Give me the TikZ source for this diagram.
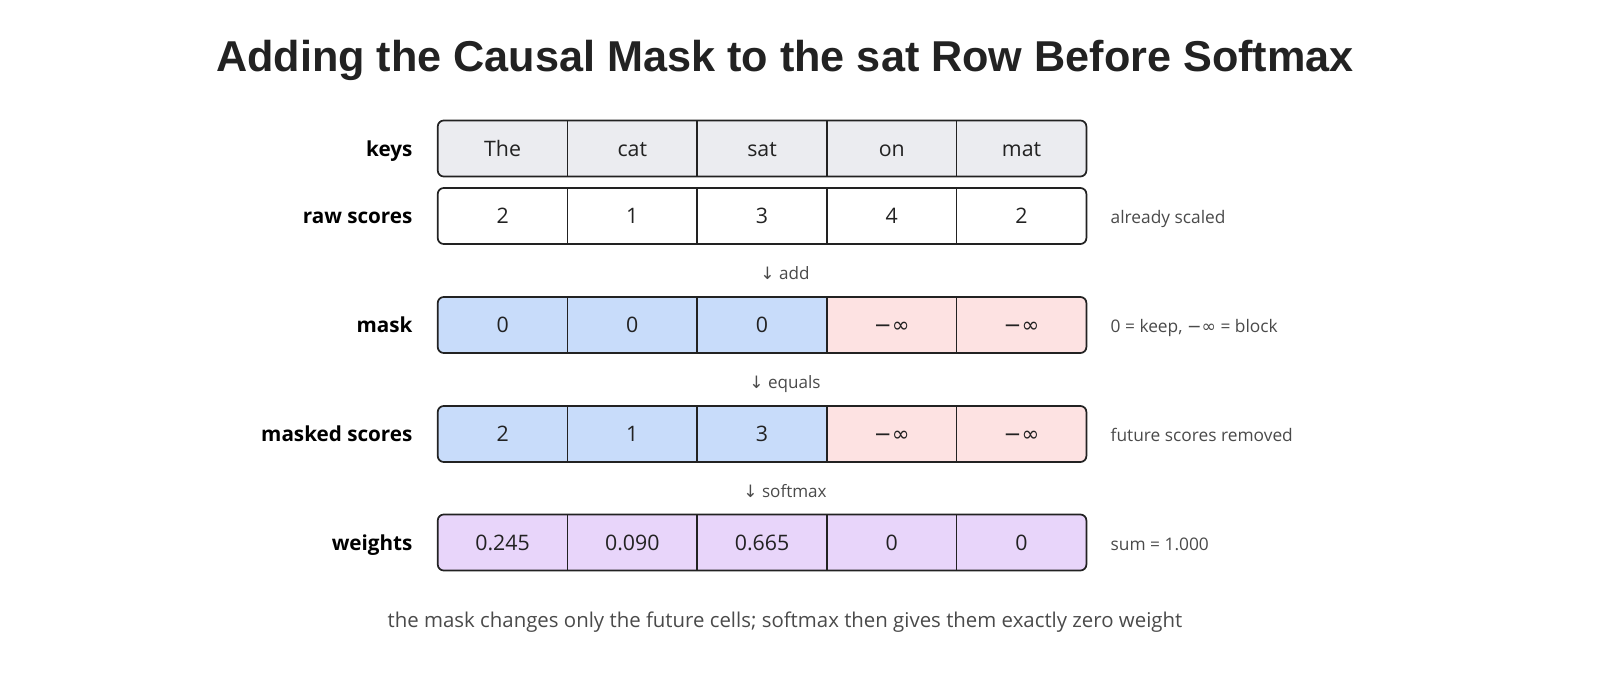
\documentclass[tikz,border=0pt]{standalone}
\usepackage{fontspec}
\setmainfont{Open Sans}
\newfontfamily\titlefont{Liberation Sans}
\newfontfamily\symfont{DejaVu Sans}
\usetikzlibrary{positioning,backgrounds}
\definecolor{inkdark}{HTML}{222222}
\definecolor{notegray}{HTML}{4A4A4A}
\definecolor{keygray}{HTML}{EBECF0}
\definecolor{keepblue}{HTML}{C8DCFA}
\definecolor{blockpink}{HTML}{FDE2E2}
\definecolor{weightpurple}{HTML}{E8D5FA}
\tikzstyle{cell} = [rectangle, minimum width=96.9pt, minimum height=41.6pt, inner sep=0pt, text height=2.2ex, text depth=0pt, text=inkdark, font=\fontsize{16}{19}\selectfont]
\tikzstyle{rowlabel} = [anchor=east, inner sep=0pt, text height=2.2ex, text depth=0pt, text=black, font=\bfseries\fontsize{15.5}{19}\selectfont]
\tikzstyle{note} = [anchor=west, inner sep=0pt, text height=2.2ex, text depth=0pt, text=notegray, font=\fontsize{13}{16}\selectfont]
\tikzstyle{steplabel} = [inner sep=0pt, text height=1.9ex, text depth=0pt, text=notegray, font=\fontsize{12.8}{16}\selectfont]
\tikzstyle{frame} = [draw=inkdark, line width=1.3pt, rounded corners=4.5pt]
\tikzstyle{divider} = [draw=inkdark, line width=1.1pt]
\newcommand{\minf}{{\symfont −∞}}
\newcommand{\down}{{\symfont ↓}}

\begin{document}
\begin{tikzpicture}[x=0.75pt, y=-0.75pt, node distance=0pt]
\useasboundingbox (0,0) rectangle (1600,680);

\node (title) [text=inkdark, font=\titlefont\bfseries\fontsize{32.4}{38}\selectfont] at (785,60) {Adding the Causal Mask to the sat Row Before Softmax};

% keys
\node (keys1) [cell] at (502.6,148.5) {The};
\node (keys2) [cell, right=of keys1] {cat};
\node (keys3) [cell, right=of keys2] {sat};
\node (keys4) [cell, right=of keys3] {on};
\node (keys5) [cell, right=of keys4] {mat};
\node (keyslabel) [rowlabel, left=18.75pt of keys1] {keys};

% raw scores
\node (raw1) [cell] at (502.6,216) {2};
\node (raw2) [cell, right=of raw1] {1};
\node (raw3) [cell, right=of raw2] {3};
\node (raw4) [cell, right=of raw3] {4};
\node (raw5) [cell, right=of raw4] {2};
\node (rawlabel) [rowlabel, left=18.75pt of raw1] {raw scores};
\node (rawnote) [note, right=18pt of raw5] {already scaled};

\node (addstep) [steplabel] at (785,273) {\down{} add};

% mask
\node (mask1) [cell] at (502.6,325) {0};
\node (mask2) [cell, right=of mask1] {0};
\node (mask3) [cell, right=of mask2] {0};
\node (mask4) [cell, right=of mask3] {\minf};
\node (mask5) [cell, right=of mask4] {\minf};
\node (masklabel) [rowlabel, left=18.75pt of mask1] {mask};
\node (masknote) [note, right=18pt of mask5] {0 = keep, \minf{} = block};

\node (equalsstep) [steplabel] at (785,382) {\down{} equals};

% masked scores
\node (msk1) [cell] at (502.6,434) {2};
\node (msk2) [cell, right=of msk1] {1};
\node (msk3) [cell, right=of msk2] {3};
\node (msk4) [cell, right=of msk3] {\minf};
\node (msk5) [cell, right=of msk4] {\minf};
\node (msklabel) [rowlabel, left=18.75pt of msk1] {masked scores};
\node (msknote) [note, right=18pt of msk5] {future scores removed};

\node (softmaxstep) [steplabel] at (785,491) {\down{} softmax};

% weights
\node (wt1) [cell] at (502.6,542.5) {0.245};
\node (wt2) [cell, right=of wt1] {0.090};
\node (wt3) [cell, right=of wt2] {0.665};
\node (wt4) [cell, right=of wt3] {0};
\node (wt5) [cell, right=of wt4] {0};
\node (wtlabel) [rowlabel, left=18.75pt of wt1] {weights};
\node (wtnote) [note, right=18pt of wt5] {sum = 1.000};

\node (caption) [inner sep=0pt, text height=2ex, text depth=0pt, text=notegray, font=\fontsize{15.3}{18}\selectfont] at (785,620) {the mask changes only the future cells; softmax then gives them exactly zero weight};

% fills
\begin{scope}[on background layer]
\fill[keygray, rounded corners=4.5pt] (keys1.north west) rectangle (keys5.south east);
\begin{scope}
\clip[rounded corners=4.5pt] (mask1.north west) rectangle (mask5.south east);
\fill[keepblue] (mask1.north west) rectangle (mask3.south east);
\fill[blockpink] (mask4.north west) rectangle (mask5.south east);
\end{scope}
\begin{scope}
\clip[rounded corners=4.5pt] (msk1.north west) rectangle (msk5.south east);
\fill[keepblue] (msk1.north west) rectangle (msk3.south east);
\fill[blockpink] (msk4.north west) rectangle (msk5.south east);
\end{scope}
\fill[weightpurple, rounded corners=4.5pt] (wt1.north west) rectangle (wt5.south east);
\end{scope}

% frames
\draw[frame] (keys1.north west) rectangle (keys5.south east);
\draw[frame] (raw1.north west) rectangle (raw5.south east);
\draw[frame] (mask1.north west) rectangle (mask5.south east);
\draw[frame] (msk1.north west) rectangle (msk5.south east);
\draw[frame] (wt1.north west) rectangle (wt5.south east);

% dividers
\foreach \r in {keys,raw,mask,msk,wt}
  \foreach \c in {1,2,3,4}
    \draw[divider] (\r\c.north east) -- (\r\c.south east);
\end{tikzpicture}
\end{document}
